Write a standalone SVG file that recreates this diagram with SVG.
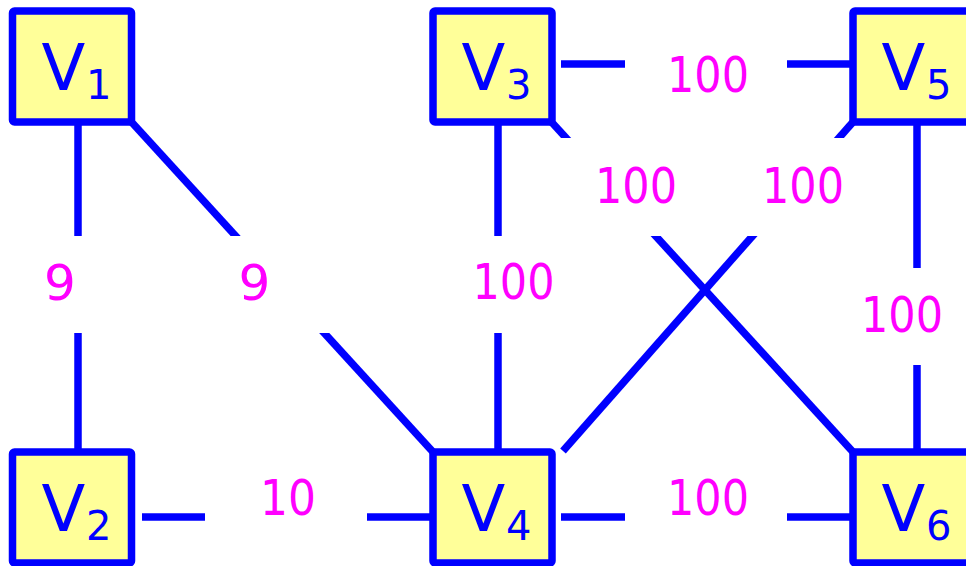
<svg xmlns="http://www.w3.org/2000/svg" width="966" height="566" viewBox="0 0 966 566">
  <style>
    .edge { stroke: #0000FF; stroke-width: 7.5; fill: none; }
    .box { fill: #FFFFFF; stroke: none; }
    .lbl { font-family: "DejaVu Sans", Verdana, sans-serif; font-size: 50px; fill: #FF00FF; text-anchor: middle; }
    .node rect { fill: #FFFF99; stroke: #0000FF; stroke-width: 7.5; }
    .node text { font-family: "DejaVu Sans", Verdana, sans-serif; fill: #0000FF; font-size: 64px; }
    .sub { font-size: 40px; }
  </style>
  <rect width="966" height="566" fill="#FFFFFF"/>
  <g id="connectors">
    <line class="edge" x1="78" y1="122" x2="78" y2="452"/>
    <line class="edge" x1="131.5" y1="122" x2="433" y2="452"/>
    <line class="edge" x1="142" y1="517" x2="433" y2="517"/>
    <line class="edge" x1="498" y1="122" x2="498" y2="452"/>
    <line class="edge" x1="561" y1="64" x2="853" y2="64"/>
    <line class="edge" x1="551.5" y1="122" x2="853" y2="452"/>
    <line class="edge" x1="853" y1="122" x2="563" y2="451"/>
    <line class="edge" x1="561" y1="517" x2="853" y2="517"/>
    <line class="edge" x1="917" y1="122" x2="917" y2="452"/>
  </g>
  <g id="labels">
    <g id="label-v1v2"><rect class="box" x="-21" y="236" width="162" height="97"/><text class="lbl" x="60" y="300">9</text></g>
    <g id="label-v1v4"><rect class="box" x="173.5" y="236" width="162" height="97"/><text class="lbl" x="254.5" y="300">9</text></g>
    <g id="label-v3v4"><rect class="box" x="432.5" y="236" width="162" height="97"/><text class="lbl" x="513.5" y="299" textLength="82" lengthAdjust="spacingAndGlyphs">100</text></g>
    <g id="label-v2v4"><rect class="box" x="205" y="449" width="162" height="97"/><text class="lbl" x="288" y="515" textLength="56" lengthAdjust="spacingAndGlyphs">10</text></g>
    <g id="label-v3v5"><rect class="box" x="625" y="16" width="162" height="97"/><text class="lbl" x="708" y="92" textLength="82" lengthAdjust="spacingAndGlyphs">100</text></g>
    <g id="label-v4v6"><rect class="box" x="625" y="449" width="162" height="97"/><text class="lbl" x="708" y="515" textLength="82" lengthAdjust="spacingAndGlyphs">100</text></g>
    <g id="label-v3v6"><rect class="box" x="555" y="138" width="162" height="98"/><text class="lbl" x="636" y="203" textLength="82" lengthAdjust="spacingAndGlyphs">100</text></g>
    <g id="label-v5v4"><rect class="box" x="722" y="138" width="162" height="98"/><text class="lbl" x="803" y="203" textLength="82" lengthAdjust="spacingAndGlyphs">100</text></g>
    <g id="label-v5v6"><rect class="box" x="821" y="268" width="162" height="97"/><text class="lbl" x="902" y="332" textLength="82" lengthAdjust="spacingAndGlyphs">100</text></g>
  </g>
  <g id="V1" class="node"><rect x="12.5" y="11" width="119" height="111" rx="2"/><text><tspan x="41.5" y="90">V</tspan><tspan class="sub" x="86" y="99">1</tspan></text></g>
  <g id="V2" class="node"><rect x="12.5" y="452" width="119" height="111" rx="2"/><text><tspan x="41.5" y="531">V</tspan><tspan class="sub" x="86" y="540">2</tspan></text></g>
  <g id="V3" class="node"><rect x="433" y="11" width="119" height="111" rx="2"/><text><tspan x="461.5" y="90">V</tspan><tspan class="sub" x="506" y="99">3</tspan></text></g>
  <g id="V4" class="node"><rect x="433" y="452" width="119" height="111" rx="2"/><text><tspan x="461.5" y="531">V</tspan><tspan class="sub" x="506" y="540">4</tspan></text></g>
  <g id="V5" class="node"><rect x="853" y="11" width="119" height="111" rx="2"/><text><tspan x="881.5" y="90">V</tspan><tspan class="sub" x="926" y="99">5</tspan></text></g>
  <g id="V6" class="node"><rect x="853" y="452" width="119" height="111" rx="2"/><text><tspan x="881.5" y="531">V</tspan><tspan class="sub" x="926" y="540">6</tspan></text></g>
</svg>
